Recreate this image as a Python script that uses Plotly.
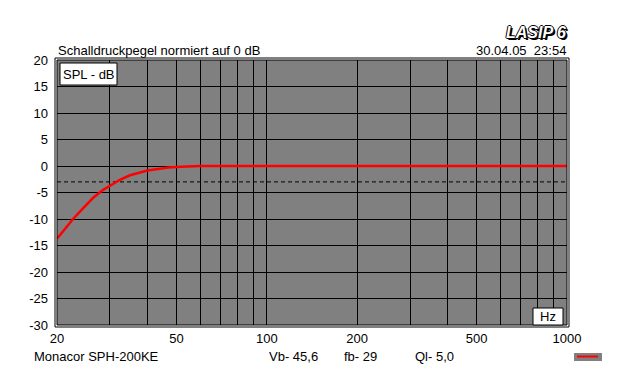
import plotly.graph_objects as go

# ---- data ----
freq_hz = [20, 21.2, 22.7, 24.5, 26.4, 28.5, 30, 31.2, 32.4, 35, 38, 40, 44, 47, 52, 56, 60, 100, 200, 500, 1000]
spl_db = [-13.7, -11.9, -9.9, -7.9, -6.0, -4.5, -3.7, -3.1, -2.6, -1.75, -1.15, -0.85, -0.5, -0.3, -0.15, -0.05, 0.0, 0.0, 0.0, 0.0, 0.0]
x_grid = [20, 30, 40, 50, 60, 70, 80, 90, 100, 200, 300, 400, 500, 600, 700, 800, 900, 1000]
x_labels = {20: "20", 50: "50", 100: "100", 200: "200", 500: "500", 1000: "1000"}
y_ticks = [-30, -25, -20, -15, -10, -5, 0, 5, 10, 15, 20]
ref_level = [-3, -3]
ref_freq = [20, 1000]

W, H = 629, 387
L, R, T, B = 57, 567, 60, 325

def px(x):
    return (x - L) / (R - L)

def py(y):
    return (B - y) / (B - T)

FONT = "Liberation Sans, Arial, sans-serif"

fig = go.Figure()
fig.add_trace(go.Scatter(x=ref_freq, y=ref_level, mode="lines",
                         line=dict(color="black", width=1, dash="4px,3px"),
                         hoverinfo="skip", showlegend=False))
fig.add_trace(go.Scatter(x=freq_hz, y=spl_db, mode="lines",
                         line=dict(color="#ff0000", width=2.5),
                         showlegend=False))

fig.update_layout(
    width=W, height=H,
    margin=dict(l=L, r=W - R, t=T, b=H - B),
    paper_bgcolor="white", plot_bgcolor="#808080",
    font=dict(family=FONT, size=13, color="black"),
    showlegend=False,
    xaxis=dict(type="log", range=[1.30103, 3.0],
               tickvals=x_grid, ticktext=[x_labels.get(v, "") for v in x_grid],
               showgrid=True, gridcolor="black", gridwidth=1,
               ticks="", ticklabelstandoff=4, zeroline=False,
               tickfont=dict(size=13)),
    yaxis=dict(range=[-30, 20], tickvals=y_ticks,
               ticktext=[str(v) for v in y_ticks],
               showgrid=True, gridcolor="black", gridwidth=1,
               ticks="", ticklabelstandoff=8, zeroline=False,
               tickfont=dict(size=13)),
)

shapes = []
# inner frame
shapes.append(dict(type="rect", xref="paper", yref="paper", x0=0, x1=1, y0=0, y1=1,
                   line=dict(color="black", width=1)))
# outer frame
shapes.append(dict(type="rect", xref="paper", yref="paper", x0=px(55), x1=px(569), y0=py(327), y1=py(58),
                   line=dict(color="black", width=1)))
# SPL box
shapes.append(dict(type="rect", xref="paper", yref="paper", x0=px(60), x1=px(117), y0=py(85), y1=py(63),
                   fillcolor="white", line=dict(color="black", width=1)))
# Hz box
shapes.append(dict(type="rect", xref="paper", yref="paper", x0=px(533), x1=px(563), y0=py(325), y1=py(308),
                   fillcolor="white", line=dict(color="black", width=1)))
# legend swatch
shapes.append(dict(type="rect", xref="paper", yref="paper", x0=px(574), x1=px(602), y0=py(361), y1=py(353),
                   fillcolor="#808080", line=dict(width=0)))
shapes.append(dict(type="line", xref="paper", yref="paper", x0=px(577), x1=px(598), y0=py(356.5), y1=py(356.5),
                   line=dict(color="#ff0000", width=2)))
fig.update_layout(shapes=shapes)

def ann(text, x, y, xanchor="left", size=13, **kw):
    fig.add_annotation(text=text, xref="paper", yref="paper", x=px(x), y=py(y),
                       xanchor=xanchor, yanchor="middle", showarrow=False,
                       font=dict(family=FONT, size=size, color=kw.pop("color", "black"), **kw.pop("font", {})), **kw)

ann("Schalldruckpegel normiert auf 0 dB", 56, 50)
ann("30.04.05  23:54", 568, 50, xanchor="right")
ann("<b><i>LASIP 6</i></b>", 568, 32, xanchor="right", size=16, color="white",
    font=dict(shadow="1px 0 0 #000, -1px 0 0 #000, 0 1px 0 #000, 0 -1px 0 #000, 2px 2px 0 #000"))
ann("SPL - dB", 88.5, 74, xanchor="center")
ann("Hz", 548, 316.5, xanchor="center")
ann("Monacor SPH-200KE", 32, 356)
ann("Vb- 45,6", 267, 356)
ann("fb- 29", 342, 356)
ann("Ql- 5,0", 413, 356)

fig.write_html("out.html", config={"displayModeBar": False},
               post_script="document.body.style.margin='0';document.body.style.padding='0';")
